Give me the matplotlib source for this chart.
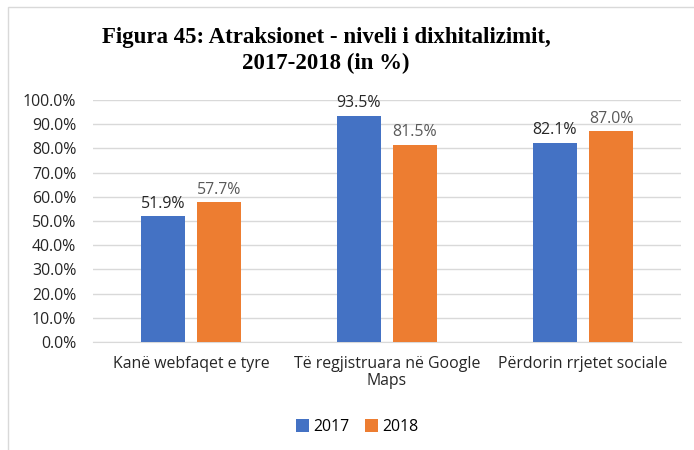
import numpy as np
import matplotlib.pyplot as plt
from matplotlib.patches import Rectangle

# Digitalisation level of attractions, by year
categories = ["Kanë webfaqet e tyre", "Të regjistruara në Google\nMaps", "Përdorin rrjetet sociale"]
vals_2017 = [51.9, 93.5, 82.1]
vals_2018 = [57.7, 81.5, 87.0]
years = ["2017", "2018"]

plt.rcParams['font.family'] = ['Open Sans', 'DejaVu Sans']
fs = 11.4

fig = plt.figure(figsize=(6.94, 4.5), dpi=100)
ax = fig.add_axes([93 / 694, 1 - 342 / 450, 588 / 694, 242 / 450])

x = np.arange(len(categories))
w = 0.224
off = 0.143
b1 = ax.bar(x - off, vals_2017, w, color='#4472C4', label=years[0], zorder=3)
b2 = ax.bar(x + off, vals_2018, w, color='#ED7D31', label=years[1], zorder=3)

for rect, v in zip(b1, vals_2017):
    ax.text(rect.get_x() + rect.get_width() / 2, v + 2, f"{v:.1f}%",
            ha='center', va='bottom', fontsize=fs, color='#262626')
for rect, v in zip(b2, vals_2018):
    ax.text(rect.get_x() + rect.get_width() / 2, v + 2, f"{v:.1f}%",
            ha='center', va='bottom', fontsize=fs, color='#595959')

ax.set_xlim(-0.5, 2.5)
ax.set_ylim(0, 100)
ax.set_yticks(np.arange(0, 101, 10))
ax.set_yticklabels([f"{t:.1f}%" for t in range(0, 101, 10)], fontsize=fs, color='#262626')
ax.set_xticks(x)
ax.set_xticklabels(categories, fontsize=fs, color='#262626', linespacing=1.1)
ax.tick_params(axis='y', length=0, pad=12)
ax.tick_params(axis='x', length=0, pad=10)
ax.yaxis.grid(True, color='#D9D9D9', linewidth=1, zorder=0)
for s in ['top', 'right', 'left']:
    ax.spines[s].set_visible(False)
ax.spines['bottom'].set_color('#D9D9D9')

fig.text(0.47, 1 - 38 / 450, "Figura 45: Atraksionet - niveli i dixhitalizimit,",
         ha='center', va='center', fontsize=16.5, fontweight='bold', family='Liberation Serif')
fig.text(0.47, 1 - 63 / 450, "2017-2018 (in %)",
         ha='center', va='center', fontsize=16.5, fontweight='bold', family='Liberation Serif')

fig.legend(loc='center', bbox_to_anchor=(0.515, 1 - 427 / 450), ncol=2, frameon=False,
           fontsize=fs, handlelength=0.8, handleheight=0.8, columnspacing=1.0, handletextpad=0.3)

fig.patches.append(Rectangle((8 / 694, -0.1), 1.1, 1 - 7 / 450 + 0.1, transform=fig.transFigure,
                             fill=False, edgecolor='#D9D9D9', linewidth=1))

fig.savefig("out.png", dpi=100)
